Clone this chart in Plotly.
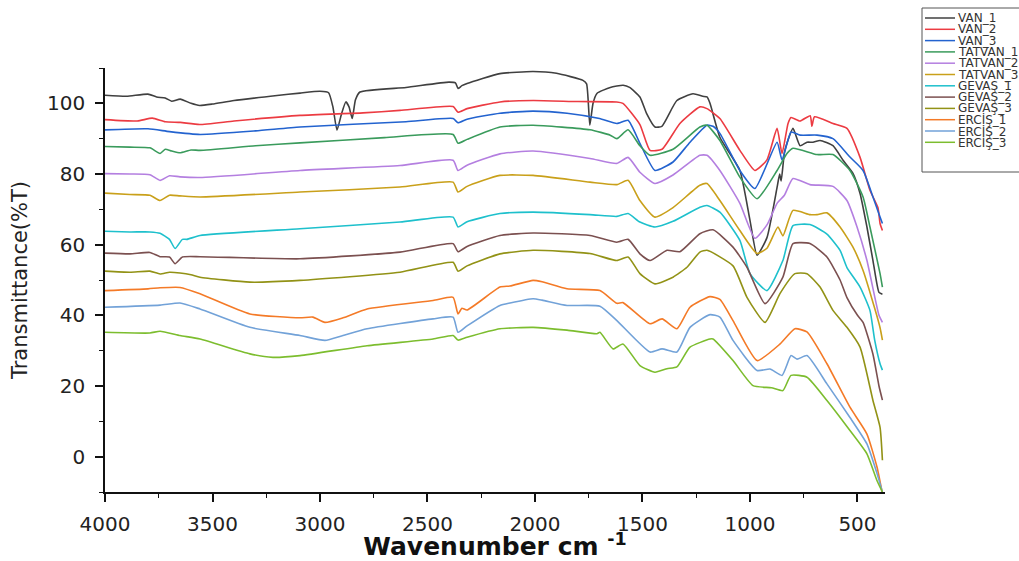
import plotly.graph_objects as go

# ---------------- data (wavenumber cm-1, transmittance %T) ----------------
SERIES_NAMES = ["VAN_1", "VAN_2", "VAN_3", "TATVAN_1", "TATVAN_2", "TATVAN_3",
                "GEVAŞ_1", "GEVAŞ_2", "GEVAŞ_3", "ERCİŞ_1", "ERCİŞ_2", "ERCİŞ_3"]

VAN_1_WN = [4000, 3900, 3800, 3760, 3720, 3690, 3650, 3600, 3560, 3500, 3400, 3200, 3093, 3000, 2960, 2940, 2921, 2900, 2880, 2865, 2850, 2835, 2814, 2600, 2400, 2370, 2358, 2340, 2316, 2163, 2009, 1900, 1777, 1760, 1745, 1730, 1712, 1650, 1590, 1560, 1512, 1480, 1442, 1410, 1340, 1265, 1220, 1200, 1186, 1140, 1047, 1000, 967, 921, 874, 862, 855, 840, 828, 800, 767, 735, 707, 674, 614, 567, 521, 488, 456, 428, 400, 384]
VAN_1_T = [102.3, 102.0, 102.6, 101.8, 101.5, 100.6, 101.2, 100.0, 99.4, 99.8, 100.8, 102.2, 102.9, 103.4, 103.0, 99.0, 92.4, 97.0, 100.4, 99.0, 95.7, 101.0, 103.2, 104.5, 106.0, 105.8, 104.2, 105.0, 105.6, 108.4, 109.0, 108.5, 106.5, 105.5, 93.8, 100.0, 102.8, 104.5, 105.1, 104.5, 101.8, 97.0, 93.3, 93.5, 100.8, 102.7, 102.0, 101.8, 100.0, 90.4, 81.0, 66.9, 57.0, 62.0, 76.2, 80.0, 78.0, 86.0, 88.7, 92.9, 88.0, 89.0, 89.0, 89.5, 88.0, 83.9, 80.2, 74.5, 65.0, 55.5, 46.5, 46.0]

VAN_2_WN = [4000, 3850, 3780, 3720, 3650, 3560, 3400, 3093, 2800, 2628, 2381, 2358, 2316, 2163, 2009, 1800, 1620, 1591, 1512, 1465, 1409, 1326, 1233, 1200, 1140, 1047, 977, 921, 874, 851, 823, 809, 767, 720, 712, 700, 614, 549, 488, 442, 405, 395, 384]
VAN_2_T = [95.4, 95.0, 95.8, 94.8, 94.6, 94.0, 95.0, 96.6, 97.3, 98.0, 99.1, 97.5, 98.5, 100.4, 100.8, 100.5, 100.4, 100.0, 94.0, 86.7, 87.0, 94.3, 99.0, 98.5, 95.7, 86.7, 81.0, 84.0, 92.9, 85.8, 94.3, 96.0, 95.0, 96.5, 93.5, 96.2, 94.3, 92.9, 84.7, 75.4, 70.5, 66.0, 64.0]

VAN_3_WN = [4000, 3800, 3700, 3558, 3300, 3093, 2600, 2381, 2358, 2316, 2163, 2009, 1851, 1700, 1619, 1567, 1512, 1442, 1358, 1279, 1200, 1172, 1140, 1047, 977, 874, 851, 809, 767, 688, 614, 535, 474, 428, 395, 384]
VAN_3_T = [92.5, 92.8, 92.0, 91.2, 92.2, 93.3, 94.8, 95.7, 94.5, 95.5, 97.2, 97.8, 97.2, 95.7, 94.3, 95.2, 88.7, 81.0, 83.4, 89.0, 93.8, 93.5, 91.5, 81.0, 75.9, 89.0, 84.0, 91.9, 91.0, 91.0, 90.0, 84.8, 81.0, 73.5, 67.8, 66.0]

TATVAN_1_WN = [4000, 3884, 3791, 3744, 3720, 3690, 3651, 3600, 3558, 3300, 3093, 2700, 2381, 2358, 2316, 2163, 2009, 1744, 1650, 1619, 1567, 1512, 1465, 1358, 1233, 1200, 1140, 1047, 967, 874, 828, 800, 688, 614, 535, 474, 442, 395, 384]
TATVAN_1_T = [87.8, 87.6, 87.4, 85.8, 87.0, 86.5, 86.0, 86.8, 86.7, 88.0, 88.8, 90.3, 91.2, 88.7, 89.8, 93.3, 93.8, 92.5, 91.0, 90.0, 92.5, 88.0, 85.3, 87.0, 93.3, 93.8, 89.5, 79.1, 73.0, 81.0, 85.8, 87.3, 85.5, 85.5, 81.0, 73.5, 65.0, 51.8, 48.0]

TATVAN_2_WN = [4000, 3884, 3791, 3744, 3700, 3651, 3558, 3093, 2628, 2381, 2358, 2316, 2163, 2009, 1744, 1619, 1567, 1512, 1442, 1358, 1233, 1200, 1140, 1047, 977, 921, 874, 840, 800, 721, 614, 549, 502, 456, 400, 384]
TATVAN_2_T = [80.1, 80.0, 79.8, 78.2, 79.5, 79.2, 79.0, 81.0, 82.4, 83.9, 81.0, 82.5, 85.7, 86.5, 84.4, 83.0, 84.7, 80.5, 77.3, 79.7, 85.3, 85.3, 81.0, 71.7, 61.8, 65.6, 71.7, 74.0, 78.7, 77.0, 76.5, 72.5, 65.0, 55.5, 40.0, 38.0]

TATVAN_3_WN = [4000, 3884, 3791, 3744, 3700, 3651, 3558, 3093, 2628, 2381, 2358, 2316, 2163, 2009, 1744, 1619, 1567, 1512, 1442, 1358, 1233, 1200, 1140, 1047, 967, 921, 870, 847, 800, 721, 688, 642, 581, 521, 474, 420, 395, 384]
TATVAN_3_T = [74.6, 74.2, 74.0, 72.5, 74.0, 73.8, 73.5, 74.9, 76.3, 77.7, 74.9, 76.5, 79.6, 79.6, 77.7, 77.0, 78.2, 72.5, 67.8, 70.5, 76.8, 77.3, 72.5, 64.0, 57.5, 59.0, 65.0, 62.5, 69.7, 68.5, 68.5, 69.0, 65.0, 59.3, 52.7, 42.0, 36.5, 33.0]

GEVAS_1_WN = [4000, 3884, 3791, 3744, 3700, 3674, 3640, 3619, 3558, 3093, 2628, 2381, 2358, 2316, 2163, 2009, 1744, 1619, 1567, 1512, 1442, 1358, 1233, 1200, 1140, 1047, 1000, 921, 847, 800, 721, 642, 581, 549, 488, 442, 420, 395, 384]
GEVAS_1_T = [63.8, 63.6, 63.6, 63.2, 61.5, 58.9, 61.5, 61.5, 62.6, 64.5, 66.4, 67.8, 65.0, 66.5, 68.8, 69.2, 68.5, 68.0, 68.8, 66.4, 65.0, 66.6, 70.6, 71.1, 69.2, 61.2, 51.8, 47.0, 55.5, 65.4, 65.7, 63.0, 58.4, 53.5, 48.0, 41.4, 33.0, 26.3, 24.5]

GEVAS_2_WN = [4000, 3884, 3791, 3744, 3700, 3674, 3640, 3558, 3093, 2628, 2381, 2358, 2316, 2163, 2009, 1744, 1619, 1567, 1512, 1465, 1386, 1326, 1233, 1172, 1079, 1014, 930, 847, 800, 721, 642, 581, 549, 500, 474, 428, 400, 384]
GEVAS_2_T = [57.6, 57.4, 57.8, 56.6, 56.5, 54.6, 56.5, 56.6, 56.0, 57.9, 60.3, 58.0, 59.5, 62.6, 63.3, 62.6, 60.7, 61.5, 57.4, 55.5, 58.4, 58.0, 63.1, 64.2, 59.3, 53.6, 43.3, 50.8, 60.3, 60.3, 56.5, 50.0, 45.0, 40.0, 38.0, 29.0, 20.0, 16.0]

GEVAS_3_WN = [4000, 3884, 3791, 3744, 3700, 3651, 3600, 3558, 3326, 3093, 2628, 2381, 2358, 2316, 2163, 2009, 1744, 1619, 1567, 1512, 1442, 1358, 1293, 1233, 1200, 1079, 1014, 930, 860, 791, 735, 674, 614, 549, 488, 428, 395, 384]
GEVAS_3_T = [52.5, 52.2, 52.5, 51.7, 52.2, 52.0, 51.5, 50.8, 49.4, 49.9, 52.2, 55.0, 52.5, 54.0, 57.4, 58.4, 57.5, 55.5, 56.5, 51.8, 48.9, 50.8, 53.6, 57.9, 58.4, 54.0, 45.1, 38.0, 46.2, 51.8, 51.8, 48.0, 41.4, 36.6, 31.0, 15.9, 8.3, -1.0]

ERCIS_1_WN = [4000, 3800, 3744, 3651, 3558, 3326, 3093, 3033, 2977, 2893, 2781, 2474, 2381, 2358, 2340, 2316, 2163, 2116, 2009, 1967, 1851, 1698, 1619, 1591, 1465, 1409, 1340, 1279, 1186, 1140, 1079, 967, 860, 791, 735, 642, 535, 456, 409, 384]
ERCIS_1_T = [47.0, 47.5, 47.8, 47.9, 46.1, 40.4, 39.3, 39.5, 38.0, 39.3, 41.8, 44.2, 45.1, 40.4, 42.0, 41.5, 48.0, 48.3, 49.9, 49.5, 47.5, 47.0, 43.4, 43.6, 37.6, 39.0, 36.2, 42.3, 45.3, 44.5, 38.5, 27.2, 31.9, 36.2, 35.3, 26.3, 14.0, 6.4, -3.0, -10.5]

ERCIS_2_WN = [4000, 3744, 3651, 3558, 3326, 3093, 2977, 2893, 2781, 2474, 2381, 2358, 2316, 2163, 2116, 2009, 1967, 1851, 1698, 1619, 1465, 1409, 1340, 1279, 1186, 1140, 1079, 967, 907, 851, 809, 781, 735, 642, 535, 456, 409, 384]
ERCIS_2_T = [42.3, 42.9, 43.5, 41.8, 36.6, 34.3, 32.9, 34.3, 36.2, 39.0, 39.5, 35.2, 37.0, 42.8, 43.5, 44.7, 44.3, 42.8, 42.6, 38.5, 29.6, 30.5, 29.6, 36.6, 40.2, 39.5, 32.9, 24.4, 24.8, 23.0, 28.6, 27.6, 28.6, 20.6, 11.1, 3.6, -4.8, -10.0]

ERCIS_3_WN = [4000, 3791, 3744, 3651, 3558, 3326, 3219, 3093, 2781, 2474, 2381, 2358, 2316, 2163, 2009, 1851, 1712, 1698, 1637, 1591, 1512, 1442, 1386, 1340, 1279, 1186, 1172, 1079, 986, 900, 847, 809, 735, 642, 535, 456, 409, 384]
ERCIS_3_T = [35.2, 35.0, 35.5, 34.3, 33.3, 29.1, 28.1, 28.6, 31.4, 33.3, 34.3, 33.0, 33.8, 36.2, 36.6, 35.8, 34.8, 35.2, 30.5, 31.9, 25.8, 23.9, 24.9, 25.4, 31.0, 33.3, 33.3, 27.2, 20.1, 19.5, 18.7, 23.0, 22.5, 15.9, 7.4, 0.8, -6.8, -10.0]

X_TICKS = [4000, 3500, 3000, 2500, 2000, 1500, 1000, 500]
Y_TICKS = [0, 20, 40, 60, 80, 100]

# ---------------- styling ----------------
COLORS = ["#404040", "#ec3b42", "#2363cf", "#3a9b5c", "#b47fe0", "#c9a01a",
          "#1ec0cc", "#7b5050", "#929216", "#f47a27", "#72a2d8", "#7cbd2e"]

WN_LISTS = [VAN_1_WN, VAN_2_WN, VAN_3_WN, TATVAN_1_WN, TATVAN_2_WN, TATVAN_3_WN,
            GEVAS_1_WN, GEVAS_2_WN, GEVAS_3_WN, ERCIS_1_WN, ERCIS_2_WN, ERCIS_3_WN]
T_LISTS = [VAN_1_T, VAN_2_T, VAN_3_T, TATVAN_1_T, TATVAN_2_T, TATVAN_3_T,
           GEVAS_1_T, GEVAS_2_T, GEVAS_3_T, ERCIS_1_T, ERCIS_2_T, ERCIS_3_T]

fig = go.Figure()
for name, wn, t, c in zip(SERIES_NAMES, WN_LISTS, T_LISTS, COLORS):
    fig.add_trace(go.Scatter(x=wn, y=t, mode="lines", name=name,
                             line=dict(color=c, width=1.6, shape="spline", smoothing=0.5),
                             showlegend=False))

W, H = 1019, 561
ML, MR, MT, MB = 105, 134, 68, 69
pw, ph = W - ML - MR, H - MT - MB

def px2paper_x(px):
    return (px - ML) / pw

def px2paper_y(py):
    return (H - MB - py) / ph

# compact legend box (clipped at the right edge as in the reference)
shapes = [dict(type="rect", xref="paper", yref="paper",
               x0=px2paper_x(922), x1=px2paper_x(1040),
               y0=px2paper_y(172), y1=px2paper_y(8),
               line=dict(color="#555555", width=1), fillcolor="rgba(0,0,0,0)")]
annotations = []
for i, (name, c) in enumerate(zip(SERIES_NAMES, COLORS)):
    yy = 18 + i * 11.3
    shapes.append(dict(type="line", xref="paper", yref="paper",
                       x0=px2paper_x(925), x1=px2paper_x(955),
                       y0=px2paper_y(yy), y1=px2paper_y(yy),
                       line=dict(color=c, width=1.5)))
    annotations.append(dict(xref="paper", yref="paper", x=px2paper_x(957),
                            y=px2paper_y(yy), text=name, showarrow=False,
                            xanchor="left", yanchor="middle", borderpad=0,
                            font=dict(family="DejaVu Sans", size=12, color="#333333")))

axis_common = dict(showline=True, linecolor="#111111", linewidth=1.5,
                   ticks="outside", ticklen=8, tickwidth=1.5, tickcolor="#111111",
                   showgrid=False, zeroline=False, mirror=False, automargin=False,
                   tickfont=dict(family="DejaVu Sans", size=20, color="#222222"))

fig.update_layout(
    width=W, height=H, margin=dict(l=ML, r=MR, t=MT, b=MB),
    paper_bgcolor="white", plot_bgcolor="white",
    xaxis=dict(range=[4000, 372], tickvals=X_TICKS, ticklabelstandoff=5,
               minor=dict(ticks="outside", ticklen=4, tickwidth=1.2, tickcolor="#111111", dtick=250, tick0=0),
               title=dict(text="Wavenumber cm&nbsp;<sup>-1</sup>", standoff=14,
                          font=dict(family="DejaVu Sans", size=25, color="#111111", weight="bold")),
               **axis_common),
    yaxis=dict(range=[-10, 110], tickvals=Y_TICKS, ticklabelstandoff=6,
               minor=dict(ticks="outside", ticklen=4, tickwidth=1.2, tickcolor="#111111", dtick=10, tick0=0),
               title=dict(text="Transmittance(%T)", standoff=14,
                          font=dict(family="DejaVu Sans", size=21, color="#222222")),
               **axis_common),
    shapes=shapes, annotations=annotations,
)

# remove the browser's default 8px page margin so the figure sits at (0, 0)
fig.write_html("out.html", config={"displayModeBar": False},
               post_script="document.body.style.margin='0';document.body.style.overflow='hidden';")
